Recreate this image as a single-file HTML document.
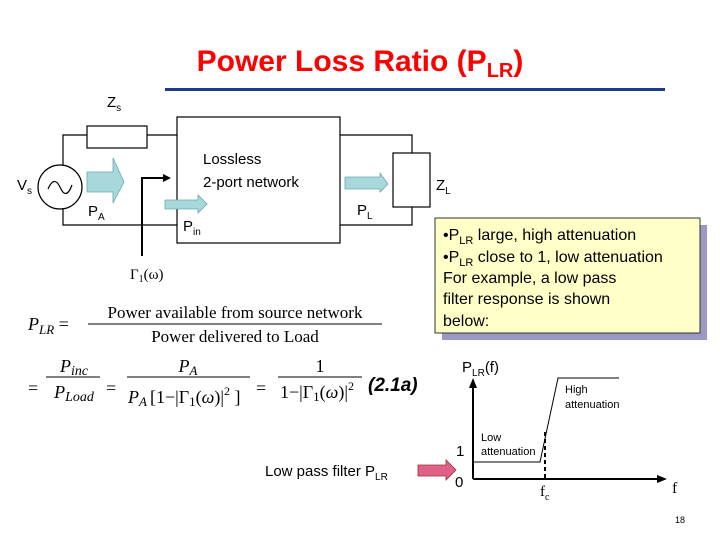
<!DOCTYPE html>
<html><head><style>
body{margin:0;background:#fff;}
svg{display:block;font-family:"Liberation Sans",sans-serif;}
.s{font-family:"Liberation Serif",serif;}
</style></head><body>
<svg width="720" height="540" viewBox="0 0 720 540" xmlns="http://www.w3.org/2000/svg">
<text x="360" y="71" text-anchor="middle" font-size="30" font-weight="bold" fill="#ff0000">Power Loss Ratio (P<tspan font-size="20" dy="6">LR</tspan><tspan dy="-6">)</tspan></text>
<rect x="165" y="88" width="500" height="3" fill="#1a3a8a"/>
<g stroke="#000" stroke-width="1.2" fill="none">
<polyline points="177,135 63,135 63,165"/>
<polyline points="63,208 63,225 177,225"/>
<rect x="87" y="126" width="60" height="22" fill="#fff"/>
<circle cx="60" cy="187" r="22"/>
<path d="M48,189 q6,-14 12,-2 q6,14 12,-2"/>
<rect x="177" y="117" width="163" height="126" fill="#fff"/>
<polyline points="340,135 412,135 412,153"/>
<polyline points="412,207 412,225 340,225"/>
<rect x="393" y="153" width="37" height="54" fill="#fff"/>
</g>
<g fill="#a8d8dc" stroke="#6aa" stroke-width="0.8">
<polygon points="87,172 113,172 113,158 124,182 113,203 113,192 87,192"/>
<polygon points="165,200 198,200 198,195 207,204 198,213 198,209 165,209"/>
<polygon points="345,177 380,177 380,173 388,184 380,192 380,189 345,189"/>
</g>
<polyline points="142,256 142,178 164,178" stroke="#000" stroke-width="2" fill="none"/>
<polygon points="171,178 163,174 163,182" fill="#000"/>
<g font-size="15">
<text x="107" y="107">Z<tspan font-size="10" dy="4">s</tspan></text>
<text x="17" y="190">V<tspan font-size="10" dy="4">s</tspan></text>
<text x="88" y="216">P<tspan font-size="10" dy="4">A</tspan></text>
<text x="183" y="231">P<tspan font-size="10" dy="4">in</tspan></text>
<text x="357" y="215">P<tspan font-size="10" dy="4">L</tspan></text>
<text x="436" y="190">Z<tspan font-size="10" dy="4">L</tspan></text>
<text x="203" y="164">Lossless</text>
<text x="203" y="187">2-port network</text>
</g>
<text x="130" y="279" class="s" font-size="15">Γ<tspan font-size="10" dy="3">1</tspan><tspan dy="-3">(ω)</tspan></text>
<rect x="442" y="225" width="265" height="115" fill="#9999c4"/>
<rect x="435" y="218" width="265" height="115" fill="#ffffc8" stroke="#333" stroke-width="1"/>
<g font-size="16">
<text x="443" y="240">•P<tspan font-size="11" dy="4">LR</tspan><tspan dy="-4"> large, high attenuation</tspan></text>
<text x="443" y="262">•P<tspan font-size="11" dy="4">LR</tspan><tspan dy="-4"> close to 1, low attenuation</tspan></text>
<text x="443" y="283">For example, a low pass</text>
<text x="443" y="304">filter response is shown</text>
<text x="443" y="326">below:</text>
</g>
<g class="s" font-size="18">
<text x="28" y="330" font-style="italic">P<tspan font-size="13" dy="4">LR</tspan><tspan dy="-4" font-style="normal"> =</tspan></text>
<text x="235" y="318" text-anchor="middle" font-size="17">Power available from source network</text>
<line x1="88" y1="324" x2="382" y2="324" stroke="#000" stroke-width="1"/>
<text x="235" y="342" text-anchor="middle" font-size="17">Power delivered to Load</text>
<text x="28" y="394">=</text>
<text x="74" y="372" text-anchor="middle" font-style="italic">P<tspan font-size="14" dy="3">inc</tspan></text>
<line x1="46" y1="377" x2="100" y2="377" stroke="#000"/>
<text x="74" y="398" text-anchor="middle" font-style="italic">P<tspan font-size="14" dy="3">Load</tspan></text>
<text x="106" y="394">=</text>
<text x="188" y="372" text-anchor="middle" font-style="italic">P<tspan font-size="13" dy="3">A</tspan></text>
<line x1="127" y1="377" x2="250" y2="377" stroke="#000"/>
<text x="128" y="403" font-style="italic">P<tspan font-size="13" dy="3">A</tspan></text>
<text x="150" y="403">[1−|Γ<tspan font-size="13" dy="3">1</tspan><tspan dy="-3">(</tspan><tspan font-style="italic">ω</tspan>)|<tspan font-size="12" dy="-8">2</tspan><tspan dy="8"> ]</tspan></text>
<text x="256" y="394">=</text>
<text x="320" y="372" text-anchor="middle">1</text>
<line x1="278" y1="377" x2="362" y2="377" stroke="#000"/>
<text x="280" y="398">1−|Γ<tspan font-size="13" dy="3">1</tspan><tspan dy="-3">(</tspan><tspan font-style="italic">ω</tspan>)|<tspan font-size="12" dy="-8">2</tspan></text>
</g>
<text x="368" y="391" font-size="19" font-weight="bold" font-style="italic">(2.1a)</text>
<text x="265" y="476" font-size="15">Low pass filter P<tspan font-size="10" dy="4">LR</tspan></text>
<polygon points="418,465 446,465 446,460 456,470 446,480 446,476 418,476" fill="#e0608a" stroke="#933" stroke-width="0.8"/>
<g stroke="#000" fill="none">
<line x1="473" y1="479" x2="473" y2="386" stroke-width="2"/>
<line x1="473" y1="479" x2="660" y2="479" stroke-width="2"/>
<polyline points="473,462 540,462 558,378 619,378" stroke-width="1"/>
<line x1="545" y1="432" x2="545" y2="479" stroke-width="2" stroke-dasharray="4,3"/>
</g>
<polygon points="473,378 469,388 477,388" fill="#000"/>
<polygon points="667,479 657,475 657,483" fill="#000"/>
<text x="462" y="372" font-size="15">P<tspan font-size="10" dy="4">LR</tspan><tspan dy="-4">(f)</tspan></text>
<text x="565" y="393" font-size="11">High</text>
<text x="565" y="408" font-size="11">attenuation</text>
<text x="481" y="441" font-size="11">Low</text>
<text x="481" y="455" font-size="11">attenuation</text>
<text x="456" y="456" font-size="15">1</text>
<text x="455" y="487" font-size="15">0</text>
<text x="540" y="496" class="s" font-size="15">f<tspan font-size="10" dy="4">c</tspan></text>
<text x="672" y="493" class="s" font-size="16">f</text>
<text x="675" y="523" font-size="9">18</text>
</svg>
</body></html>
